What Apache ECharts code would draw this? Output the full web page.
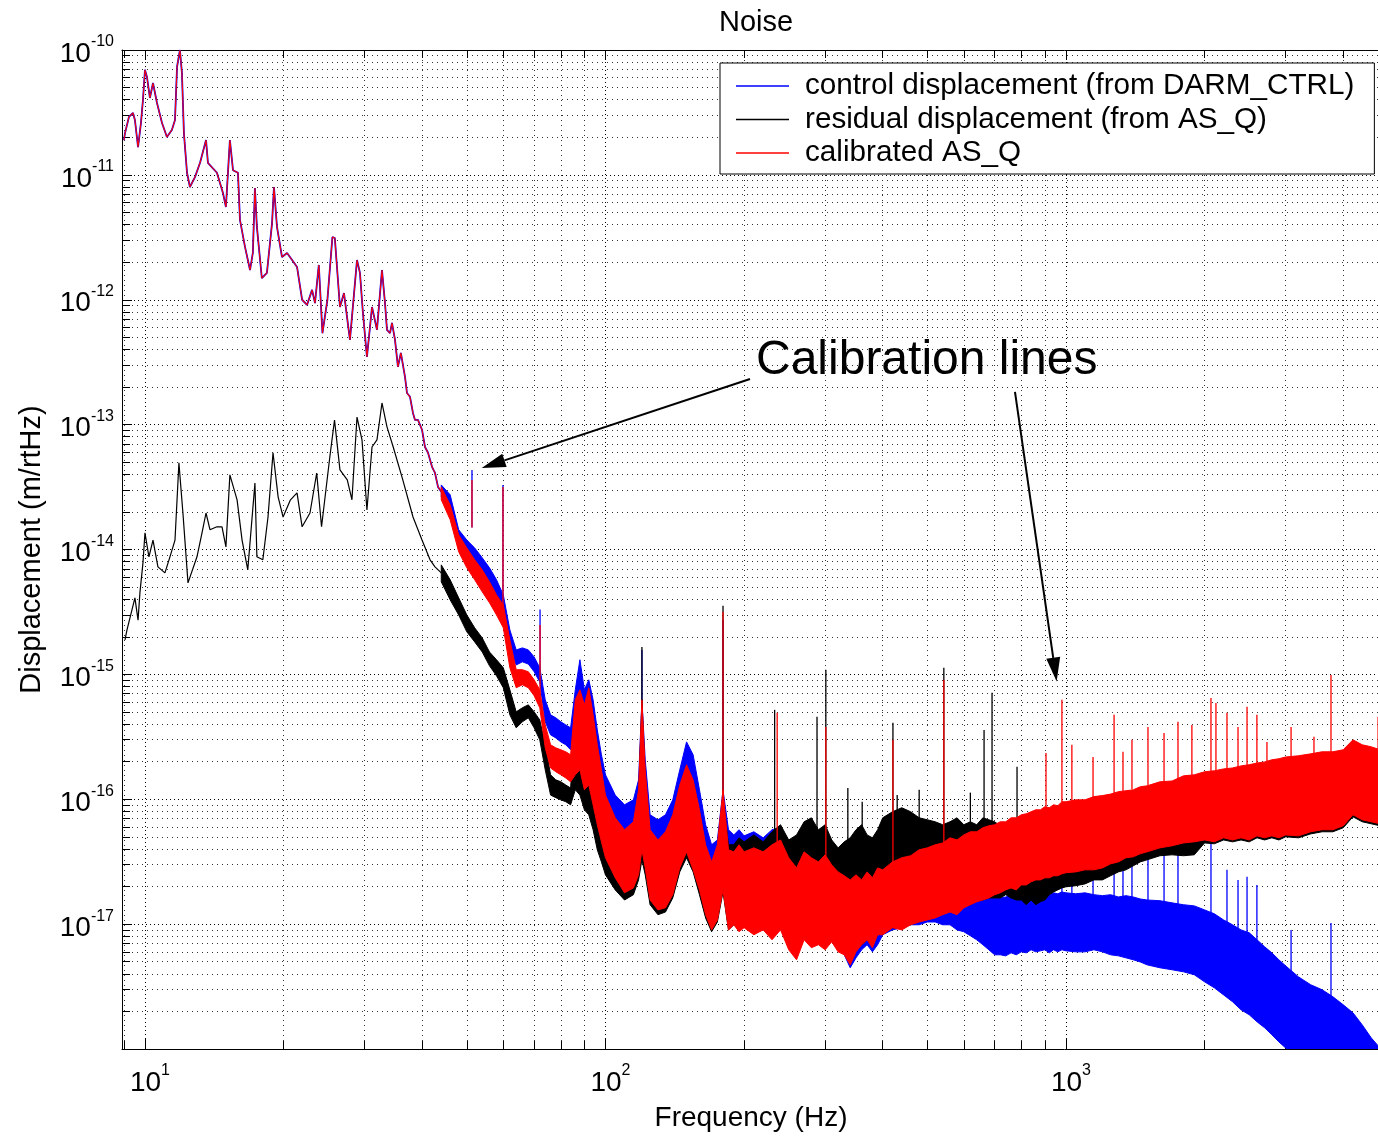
<!DOCTYPE html>
<html>
<head>
<meta charset="utf-8">
<title>Noise</title>
<script src="https://cdn.jsdelivr.net/npm/echarts@6.0.0/dist/echarts.min.js"></script>
<style>
  html, body { margin: 0; padding: 0; background: #fff; }
  #chart { width: 1378px; height: 1136px; }
</style>
</head>
<body>
<div id="chart"></div>
<script>
// values: frequency in Hz, displacement in m/rtHz

// low frequency part, control (blue) and calibrated AS_Q (red) lie on top of each other
const topTraceFreq = [
  9.00, 9.05, 9.23, 9.42, 9.51, 9.66, 9.80, 9.90, 10.0, 10.1,
  10.25, 10.41, 10.62, 10.89, 11.16, 11.44, 11.62, 11.74, 11.91, 12.03,
  12.15, 12.34, 12.52, 12.84, 13.17, 13.57, 13.70, 14.33, 14.77, 14.99,
  15.29, 15.53, 15.92, 16.08, 16.49, 16.91, 17.15, 17.33, 17.50, 17.94,
  18.40, 18.88, 19.06, 19.35, 19.84, 20.35, 20.87, 21.39, 21.94, 22.49,
  23.06, 23.40, 23.85, 24.29, 24.90, 25.53, 25.84, 26.51, 27.05, 27.87,
  28.87, 29.30, 29.74, 30.34, 31.12, 31.90, 32.71, 33.21, 33.54, 34.05,
  34.39, 34.91, 35.43, 35.95, 36.70, 37.07, 37.63, 38.19, 38.58, 39.16,
  39.96, 40.56, 41.18, 42.01, 42.64, 43.29, 44.0
];
const topTraceVal = [
  1.90e-11, 2.16e-11, 2.91e-11, 3.13e-11, 2.75e-11, 1.67e-11, 2.60e-11, 3.98e-11, 6.94e-11, 6.08e-11,
  4.13e-11, 5.44e-11, 3.76e-11, 2.60e-11, 2.01e-11, 2.29e-11, 2.75e-11, 7.34e-11, 1.0e-10, 6.54e-11,
  2.16e-11, 1.04e-11, 8.0e-12, 9.6e-12, 1.25e-11, 1.90e-11, 1.25e-11, 1.04e-11, 7.16e-12, 5.53e-12,
  1.90e-11, 1.09e-11, 1.04e-11, 4.36e-12, 2.65e-12, 1.73e-12, 2.37e-12, 7.85e-12, 3.83e-12, 1.49e-12,
  1.64e-12, 4.12e-12, 8.0e-12, 3.83e-12, 2.20e-12, 2.37e-12, 2.08e-12, 1.83e-12, 1.0e-12, 9.1e-13,
  1.20e-12, 9.4e-13, 1.90e-12, 5.4e-13, 1.0e-12, 3.18e-12, 3.12e-12, 8.75e-13, 1.13e-12, 4.77e-13,
  2.08e-12, 1.64e-12, 7.84e-13, 3.48e-13, 8.75e-13, 5.74e-13, 1.73e-12, 9.4e-13, 5.74e-13, 5.4e-13,
  6.52e-13, 4.77e-13, 2.90e-13, 3.75e-13, 2.41e-13, 1.79e-13, 1.67e-13, 1.24e-13, 1.09e-13, 1.09e-13,
  9.1e-14, 6.62e-14, 5.95e-14, 4.59e-14, 4.1e-14, 3.17e-14, 2.9e-14
];

// low frequency part of the residual displacement (black)
const blackTraceFreq = [
  9.05, 9.14, 9.37, 9.51, 9.66, 9.75, 9.90, 10.0, 10.2, 10.41,
  10.67, 11.05, 11.33, 11.62, 11.85, 12.09, 12.4, 12.97, 13.3, 13.57,
  13.84, 14.33, 14.7, 14.99, 15.29, 15.85, 16.25, 16.72, 17.33, 17.5,
  18.03, 18.5, 18.97, 19.46, 19.95, 20.7, 21.39, 21.94, 22.82, 23.6,
  24.18, 25.2, 25.8, 26.51, 27.5, 28.15, 28.87, 29.6, 30.34, 31.12,
  31.9, 32.71, 33.54, 34.6, 36.3, 38.2, 39.96, 41.6, 42.64, 44
];
const blackTraceVal = [
  1.89e-15, 2.27e-15, 3.28e-15, 4.10e-15, 2.72e-15, 4.49e-15, 7.82e-15, 1.36e-14, 8.74e-15, 1.19e-14,
  7.26e-15, 6.5e-15, 8.74e-15, 1.19e-14, 4.94e-14, 1.96e-14, 5.4e-15, 8.74e-15, 1.36e-14, 1.96e-14,
  1.44e-14, 1.52e-14, 1.52e-14, 1.05e-14, 3.96e-14, 2.50e-14, 1.19e-14, 6.87e-15, 3.41e-14, 8.74e-15,
  8.27e-15, 1.82e-14, 5.95e-14, 2.64e-14, 1.82e-14, 2.50e-14, 2.84e-14, 1.52e-14, 1.96e-14, 4.1e-14,
  1.52e-14, 5.5e-14, 1.09e-13, 4.34e-14, 3.61e-14, 2.50e-14, 1.15e-13, 7.55e-14, 2.07e-14, 6.62e-14,
  7.55e-14, 1.49e-13, 9.6e-14, 6.62e-14, 3.61e-14, 1.82e-14, 1.19e-14, 8.27e-15, 7.26e-15, 6.5e-15
];

// above 44 Hz the spectra are dense noise: upper and lower edge of each band
const bandFreq = [
  44, 46, 48, 50, 52, 54, 56, 58, 60, 62,
  64, 66, 68, 70, 72, 74, 76, 78, 80, 82,
  84, 86, 88, 90, 92, 94, 96, 98, 100, 105,
  110, 115, 118, 120, 122, 125, 130, 135, 140, 145,
  150, 155, 160, 165, 170, 175, 180, 185, 190, 195,
  200, 210, 220, 230, 240, 250, 260, 270, 280, 290,
  300, 310, 320, 330, 340, 350, 360, 370, 380, 390,
  400, 420, 440, 460, 480, 500, 520, 540, 560, 580,
  600, 620, 640, 660, 680, 700, 720, 740, 760, 780,
  800, 820, 840, 860, 880, 900, 920, 940, 960, 980,
  1000, 1050, 1100, 1150, 1200, 1250, 1300, 1350, 1400, 1450,
  1500, 1600, 1700, 1800, 1900, 2000, 2100, 2200, 2300, 2400,
  2500, 2600, 2700, 2800, 2900, 3000, 3200, 3400, 3600, 3800,
  4000, 4200, 4400, 4600, 4808
];

const blueHigh = [
  3.29e-14, 2.74e-14, 1.44e-14, 1.19e-14, 1.03e-14, 8.58e-15, 7.13e-15, 5.72e-15, 4.33e-15, 2.27e-15,
  1.57e-15, 1.63e-15, 1.57e-15, 1.38e-15, 1.13e-15, 6.26e-16, 4.74e-16, 4.49e-16, 4.17e-16, 3.94e-16,
  3.73e-16, 7.52e-16, 1.31e-15, 7.52e-16, 9.05e-16, 6.26e-16, 3.59e-16, 2.27e-16, 1.57e-16, 1.08e-16,
  9.03e-17, 9.89e-17, 1.43e-16, 6.26e-16, 2.07e-16, 7.51e-17, 6.85e-17, 7.51e-17, 9.89e-17, 1.72e-16,
  2.88e-16, 2.27e-16, 1.19e-16, 6.25e-17, 4.32e-17, 4.72e-17, 1.19e-16, 5.70e-17, 5.18e-17, 5.70e-17,
  5.09e-17, 5.49e-17, 4.91e-17, 5.70e-17, 5.91e-17, 3.94e-17, 3.40e-17, 4.32e-17, 3.94e-17, 3.79e-17,
  4.08e-17, 3.59e-17, 3.15e-17, 2.82e-17, 2.48e-17, 2.62e-17, 2.48e-17, 2.62e-17, 2.26e-17, 2.35e-17,
  2.48e-17, 2.35e-17, 2.26e-17, 2.26e-17, 2.18e-17, 2.06e-17, 2.06e-17, 1.99e-17, 1.95e-17, 1.88e-17,
  1.88e-17, 1.81e-17, 1.78e-17, 1.72e-17, 1.69e-17, 1.65e-17, 1.62e-17, 1.65e-17, 1.69e-17, 1.65e-17,
  1.72e-17, 1.69e-17, 1.72e-17, 1.75e-17, 1.72e-17, 1.78e-17, 1.72e-17, 1.78e-17, 1.75e-17, 1.81e-17,
  1.78e-17, 1.75e-17, 1.78e-17, 1.72e-17, 1.69e-17, 1.72e-17, 1.65e-17, 1.69e-17, 1.65e-17, 1.59e-17,
  1.56e-17, 1.54e-17, 1.48e-17, 1.43e-17, 1.40e-17, 1.30e-17, 1.21e-17, 1.08e-17, 9.88e-18, 8.99e-18,
  8.53e-18, 7.49e-18, 6.59e-18, 5.89e-18, 5.18e-18, 4.63e-18, 3.78e-18, 3.27e-18, 2.98e-18, 2.62e-18,
  2.26e-18, 1.95e-18, 1.56e-18, 1.23e-18, 1.02e-18
];
const blueLow = [
  2.64e-14, 2.00e-14, 1.09e-14, 8.58e-15, 7.53e-15, 6.27e-15, 5.21e-15, 4.10e-15, 3.17e-15, 1.57e-15,
  1.19e-15, 1.26e-15, 1.21e-15, 1.05e-15, 8.69e-16, 4.17e-16, 3.28e-16, 3.10e-16, 2.88e-16, 2.73e-16,
  2.49e-16, 2.73e-16, 2.99e-16, 1.89e-16, 2.07e-16, 1.30e-16, 9.03e-17, 6.25e-17, 4.72e-17, 3.94e-17,
  2.98e-17, 3.40e-17, 3.94e-17, 5.70e-17, 4.32e-17, 2.72e-17, 2.48e-17, 2.72e-17, 3.27e-17, 4.56e-17,
  6.25e-17, 4.72e-17, 3.27e-17, 2.26e-17, 1.72e-17, 2.26e-17, 2.72e-17, 1.88e-17, 1.72e-17, 1.62e-17,
  1.56e-17, 1.43e-17, 1.43e-17, 1.30e-17, 1.43e-17, 8.22e-18, 6.84e-18, 8.99e-18, 7.76e-18, 8.22e-18,
  7.49e-18, 8.22e-18, 6.47e-18, 5.68e-18, 4.47e-18, 5.37e-18, 6.23e-18, 6.84e-18, 6.00e-18, 6.84e-18,
  8.22e-18, 8.99e-18, 9.36e-18, 9.88e-18, 9.88e-18, 1.04e-17, 1.04e-17, 9.88e-18, 9.88e-18, 8.99e-18,
  8.69e-18, 8.07e-18, 7.49e-18, 6.84e-18, 6.23e-18, 5.68e-18, 5.68e-18, 5.57e-18, 5.89e-18, 5.68e-18,
  6.00e-18, 5.89e-18, 6.23e-18, 6.00e-18, 6.11e-18, 6.23e-18, 5.89e-18, 6.23e-18, 6.00e-18, 6.23e-18,
  6.11e-18, 6.00e-18, 6.00e-18, 6.23e-18, 6.00e-18, 5.68e-18, 5.57e-18, 5.37e-18, 5.18e-18, 4.98e-18,
  4.72e-18, 4.47e-18, 4.31e-18, 4.15e-18, 3.93e-18, 3.45e-18, 3.09e-18, 2.71e-18, 2.39e-18, 2.06e-18,
  1.88e-18, 1.65e-18, 1.48e-18, 1.30e-18, 1.14e-18, 1.02e-18, 8.2e-19, 6.8e-19, 5.9e-19, 4.9e-19,
  4.7e-19, 4.3e-19, 3.9e-19, 3.6e-19, 3.3e-19
];

const blackHigh = [
  7.53e-15, 5.72e-15, 4.10e-15, 2.99e-15, 2.36e-15, 1.96e-15, 1.51e-15, 1.31e-15, 1.13e-15, 7.52e-16,
  5.01e-16, 5.40e-16, 5.70e-16, 5.01e-16, 4.32e-16, 2.73e-16, 1.57e-16, 1.43e-16, 1.38e-16, 1.30e-16,
  1.23e-16, 4.32e-16, 5.20e-16, 3.59e-16, 5.70e-16, 3.28e-16, 1.89e-16, 1.19e-16, 8.23e-17, 5.70e-17,
  4.72e-17, 5.49e-17, 9.89e-17, 6.26e-16, 1.43e-16, 4.72e-17, 4.08e-17, 4.72e-17, 6.25e-17, 1.08e-16,
  1.72e-16, 1.30e-16, 7.51e-17, 3.94e-17, 2.98e-17, 3.94e-17, 9.89e-17, 4.32e-17, 4.32e-17, 4.91e-17,
  4.56e-17, 5.18e-17, 4.56e-17, 5.49e-17, 6.25e-17, 4.72e-17, 5.18e-17, 6.60e-17, 7.10e-17, 5.70e-17,
  6.25e-17, 4.72e-17, 4.08e-17, 4.56e-17, 4.91e-17, 5.70e-17, 6.25e-17, 5.18e-17, 4.91e-17, 5.70e-17,
  7.10e-17, 7.94e-17, 8.55e-17, 7.94e-17, 7.10e-17, 6.85e-17, 6.60e-17, 6.25e-17, 6.60e-17, 7.10e-17,
  6.25e-17, 6.60e-17, 6.25e-17, 7.10e-17, 6.85e-17, 6.60e-17, 6.13e-17, 5.70e-17, 5.91e-17, 6.13e-17,
  6.36e-17, 6.60e-17, 6.85e-17, 6.60e-17, 7.10e-17, 7.37e-17, 7.37e-17, 7.51e-17, 7.65e-17, 7.94e-17,
  7.94e-17, 8.23e-17, 8.55e-17, 8.87e-17, 9.03e-17, 9.55e-17, 9.72e-17, 9.89e-17, 1.03e-16, 1.05e-16,
  1.08e-16, 1.15e-16, 1.19e-16, 1.26e-16, 1.30e-16, 1.38e-16, 1.43e-16, 1.48e-16, 1.51e-16, 1.57e-16,
  1.60e-16, 1.66e-16, 1.69e-16, 1.72e-16, 1.78e-16, 1.82e-16, 1.89e-16, 1.95e-16, 1.99e-16, 2.03e-16,
  2.14e-16, 2.49e-16, 2.35e-16, 2.27e-16, 2.18e-16
];
const blackLow = [
  5.51e-15, 3.95e-15, 2.99e-15, 2.19e-15, 1.82e-15, 1.51e-15, 1.17e-15, 9.73e-16, 7.81e-16, 4.74e-16,
  3.73e-16, 4.17e-16, 4.49e-16, 3.73e-16, 2.99e-16, 1.72e-16, 1.08e-16, 1.03e-16, 9.89e-17, 9.55e-17,
  9.03e-17, 1.19e-16, 1.08e-16, 8.23e-17, 7.51e-17, 5.70e-17, 3.94e-17, 3.15e-17, 2.48e-17, 1.88e-17,
  1.56e-17, 1.72e-17, 2.26e-17, 3.27e-17, 2.48e-17, 1.43e-17, 1.19e-17, 1.25e-17, 1.62e-17, 2.62e-17,
  3.40e-17, 2.62e-17, 1.72e-17, 1.12e-17, 8.69e-18, 1.04e-17, 1.81e-17, 8.99e-18, 9.88e-18, 8.99e-18,
  9.70e-18, 8.99e-18, 9.36e-18, 8.22e-18, 9.36e-18, 6.84e-18, 5.68e-18, 8.22e-18, 7.49e-18, 7.49e-18,
  6.84e-18, 7.49e-18, 6.23e-18, 6.00e-18, 5.18e-18, 6.23e-18, 6.84e-18, 7.49e-18, 6.84e-18, 8.22e-18,
  8.69e-18, 9.36e-18, 9.36e-18, 9.88e-18, 1.08e-17, 1.12e-17, 1.19e-17, 1.25e-17, 1.30e-17, 1.25e-17,
  1.43e-17, 1.43e-17, 1.56e-17, 1.56e-17, 1.62e-17, 1.62e-17, 1.62e-17, 1.72e-17, 1.62e-17, 1.56e-17,
  1.56e-17, 1.43e-17, 1.56e-17, 1.43e-17, 1.51e-17, 1.56e-17, 1.72e-17, 1.81e-17, 1.88e-17, 1.95e-17,
  1.99e-17, 2.03e-17, 2.10e-17, 2.26e-17, 2.26e-17, 2.44e-17, 2.62e-17, 2.72e-17, 2.93e-17, 3.15e-17,
  3.27e-17, 3.53e-17, 3.59e-17, 3.53e-17, 3.59e-17, 4.47e-17, 4.40e-17, 4.72e-17, 4.56e-17, 4.72e-17,
  4.56e-17, 4.91e-17, 4.72e-17, 4.91e-17, 4.72e-17, 5.00e-17, 4.91e-17, 5.28e-17, 5.49e-17, 5.49e-17,
  5.91e-17, 7.23e-17, 6.60e-17, 6.36e-17, 6.13e-17
];

const redHigh = [
  3.17e-14, 2.28e-14, 1.31e-14, 1.03e-14, 8.27e-15, 6.87e-15, 5.51e-15, 4.33e-15, 3.60e-15, 1.89e-15,
  1.09e-15, 1.09e-15, 1.05e-15, 9.05e-16, 7.52e-16, 3.94e-16, 2.73e-16, 2.58e-16, 2.49e-16, 2.40e-16,
  2.27e-16, 6.26e-16, 7.52e-16, 5.70e-16, 7.81e-16, 4.74e-16, 2.73e-16, 1.72e-16, 1.08e-16, 7.10e-17,
  5.70e-17, 6.60e-17, 1.19e-16, 6.26e-16, 1.72e-16, 5.70e-17, 4.72e-17, 5.49e-17, 7.51e-17, 1.30e-16,
  1.89e-16, 1.43e-16, 8.23e-17, 4.32e-17, 3.15e-17, 4.32e-17, 1.19e-16, 3.94e-17, 3.79e-17, 4.32e-17,
  3.79e-17, 4.08e-17, 3.79e-17, 4.32e-17, 4.72e-17, 3.40e-17, 2.82e-17, 3.79e-17, 3.40e-17, 3.15e-17,
  3.59e-17, 2.98e-17, 2.62e-17, 2.44e-17, 2.26e-17, 2.48e-17, 2.26e-17, 2.62e-17, 2.35e-17, 2.82e-17,
  2.72e-17, 3.15e-17, 3.40e-17, 3.53e-17, 3.94e-17, 4.08e-17, 4.32e-17, 4.47e-17, 4.91e-17, 4.72e-17,
  5.18e-17, 5.49e-17, 5.49e-17, 5.91e-17, 6.13e-17, 6.25e-17, 6.60e-17, 6.60e-17, 7.10e-17, 7.10e-17,
  7.51e-17, 7.65e-17, 7.94e-17, 8.23e-17, 8.23e-17, 8.71e-17, 8.55e-17, 9.03e-17, 8.87e-17, 9.55e-17,
  9.55e-17, 9.89e-17, 9.89e-17, 1.05e-16, 1.07e-16, 1.10e-16, 1.15e-16, 1.17e-16, 1.19e-16, 1.26e-16,
  1.28e-16, 1.38e-16, 1.40e-16, 1.54e-16, 1.57e-16, 1.66e-16, 1.69e-16, 1.75e-16, 1.78e-16, 1.85e-16,
  1.89e-16, 1.95e-16, 1.99e-16, 2.07e-16, 2.11e-16, 2.18e-16, 2.23e-16, 2.31e-16, 2.40e-16, 2.40e-16,
  2.49e-16, 2.99e-16, 2.73e-16, 2.63e-16, 2.49e-16
];
const redLow = [
  2.50e-14, 1.73e-14, 9.59e-15, 7.13e-15, 5.72e-15, 4.58e-15, 3.74e-15, 2.99e-15, 2.36e-15, 1.13e-15,
  7.81e-16, 8.25e-16, 7.81e-16, 6.74e-16, 5.40e-16, 2.58e-16, 1.78e-16, 1.66e-16, 1.57e-16, 1.48e-16,
  1.38e-16, 1.57e-16, 1.72e-16, 1.19e-16, 1.30e-16, 9.03e-17, 6.25e-17, 4.56e-17, 3.40e-17, 2.35e-17,
  1.78e-17, 1.95e-17, 2.48e-17, 3.94e-17, 2.82e-17, 1.56e-17, 1.30e-17, 1.35e-17, 1.72e-17, 2.82e-17,
  3.79e-17, 2.72e-17, 1.88e-17, 1.19e-17, 8.99e-18, 1.08e-17, 1.88e-17, 8.99e-18, 9.88e-18, 8.69e-18,
  9.36e-18, 8.22e-18, 8.99e-18, 7.49e-18, 8.99e-18, 6.23e-18, 5.18e-18, 7.49e-18, 6.47e-18, 6.84e-18,
  6.23e-18, 7.21e-18, 6.00e-18, 5.68e-18, 4.72e-18, 6.00e-18, 6.84e-18, 7.49e-18, 6.47e-18, 8.22e-18,
  8.22e-18, 9.36e-18, 8.99e-18, 9.88e-18, 1.04e-17, 1.08e-17, 1.12e-17, 1.19e-17, 1.25e-17, 1.19e-17,
  1.35e-17, 1.43e-17, 1.51e-17, 1.56e-17, 1.62e-17, 1.72e-17, 1.78e-17, 1.88e-17, 1.95e-17, 1.88e-17,
  2.06e-17, 2.06e-17, 2.18e-17, 2.26e-17, 2.26e-17, 2.35e-17, 2.35e-17, 2.44e-17, 2.44e-17, 2.53e-17,
  2.58e-17, 2.62e-17, 2.72e-17, 2.72e-17, 2.82e-17, 3.04e-17, 3.15e-17, 3.40e-17, 3.46e-17, 3.66e-17,
  3.79e-17, 4.08e-17, 4.24e-17, 4.47e-17, 4.56e-17, 4.72e-17, 4.56e-17, 4.91e-17, 4.72e-17, 4.91e-17,
  4.72e-17, 5.09e-17, 4.91e-17, 5.09e-17, 4.91e-17, 5.18e-17, 5.09e-17, 5.49e-17, 5.70e-17, 5.70e-17,
  6.13e-17, 7.51e-17, 6.85e-17, 6.60e-17, 6.36e-17
];

// narrow lines sticking out of the bands: [frequency, peak, foot]
const blueSpikes = [
  [51.3, 4.34e-14, 1.5e-14], [59.9, 3.29e-14, 3.5e-15], [72.1, 3.31e-15, 9.0e-16],
  [120, 1.57e-15, 2.0e-16], [180, 2.72e-15, 1.0e-16],
  [905, 2.5e-17, 1.0e-17], [980, 2.8e-17, 1.0e-17], [1030, 2.6e-17, 1.0e-17], [1145, 2.8e-17, 1.0e-17],
  [1272, 3.2e-17, 1.0e-17], [1330, 3.0e-17, 1.0e-17], [1391, 3.3e-17, 1.0e-17], [1507, 3.6e-17, 1.0e-17],
  [1633, 3.8e-17, 1.0e-17], [1751, 4.16e-17, 1.0e-17], [2065, 4.72e-17, 9.0e-18], [2237, 2.72e-17, 8.0e-18],
  [2364, 2.26e-17, 7.0e-18], [2473, 2.39e-17, 6.0e-18], [2598, 2.06e-17, 5.0e-18], [3082, 8.99e-18, 3.0e-18],
  [3763, 1.02e-17, 1.5e-18]
];
const blackSpikes = [
  [120, 1.66e-15, 1.0e-16], [180, 3.54e-15, 1.0e-16], [233, 5.20e-16, 5.5e-17], [288, 4.57e-16, 5.5e-17],
  [301, 1.09e-15, 6.0e-17], [336, 1.23e-16, 4.5e-17], [361, 9.55e-17, 5.0e-17], [421, 4.09e-16, 7.0e-17],
  [430, 1.08e-16, 7.0e-17], [480, 1.19e-16, 6.5e-17], [543, 1.13e-15, 6.0e-17], [620, 1.13e-16, 6.0e-17],
  [664, 3.59e-16, 6.5e-17], [691, 7.12e-16, 6.5e-17], [783, 1.82e-16, 6.0e-17]
];
const redSpikes = [
  [51.3, 3.61e-14, 1.5e-14], [59.9, 3.17e-14, 3.0e-15], [72.1, 2.49e-15, 7.0e-16], [180, 3.17e-15, 1.0e-16],
  [236, 4.93e-16, 4.0e-17], [301, 3.79e-16, 3.5e-17], [421, 2.99e-16, 3.0e-17], [543, 9.05e-16, 4.5e-17],
  [905, 2.35e-16, 8.5e-17], [980, 6.26e-16, 9.5e-17], [1030, 2.73e-16, 9.7e-17], [1145, 2.18e-16, 1.0e-16],
  [1272, 4.74e-16, 1.1e-16], [1330, 2.40e-16, 1.15e-16], [1391, 2.99e-16, 1.2e-16], [1507, 3.79e-16, 1.3e-16],
  [1633, 3.40e-16, 1.4e-16], [1751, 4.17e-16, 1.45e-16], [1877, 3.94e-16, 1.55e-16], [2065, 6.48e-16, 1.65e-16],
  [2117, 5.91e-16, 1.7e-16], [2237, 4.93e-16, 1.75e-16], [2364, 3.79e-16, 1.8e-16], [2473, 5.50e-16, 1.85e-16],
  [2598, 4.74e-16, 1.9e-16], [2732, 2.88e-16, 2.0e-16], [3082, 3.79e-16, 2.15e-16], [3456, 3.16e-16, 2.3e-16],
  [3763, 9.90e-16, 2.4e-16], [4762, 4.57e-16, 2.5e-16]
];

// annotation arrows: [tail frequency, tail displacement, tip frequency, tip displacement]
const calibrationArrows = [
  [206, 2.32e-13, 53.85, 4.50e-14],
  [775, 1.83e-13, 954.5, 8.76e-16]
];

const xTickExponents = [1, 2, 3];
const yTickExponents = [-17, -16, -15, -14, -13, -12, -11, -10];

const seriesNames = [
  'control displacement (from DARM_CTRL)',
  'residual displacement (from AS_Q)',
  'calibrated AS_Q'
];
const BLUE = '#0000ff';
const BLACK = '#000000';
const RED = '#ff0000';
const FONT = '"Liberation Sans", Arial, sans-serif';

// the log axis rounds very small numbers to 0, so plot in units of 1e-18 m/rtHz
const SCALE = 1e18;
const X_MIN = 8.915;
const X_MAX = 4808;

function traceSeries(name, color, freq, vals, width, z) {
  return {
    type: 'line',
    name: name,
    z: z,
    color: color,
    data: freq.map((f, i) => [f, vals[i] * SCALE]),
    symbol: 'none',
    showSymbol: false,
    silent: true,
    lineStyle: { color: color, width: width }
  };
}

function bandSeries(name, color, high, low, z) {
  const data = bandFreq.map((f, i) => [f, high[i] * SCALE, low[i] * SCALE]);
  return {
    type: 'custom',
    name: name,
    z: z,
    clip: true,
    silent: true,
    data: data,
    encode: { x: 0, y: [1, 2] },
    renderItem: function (params, api) {
      if (params.dataIndex !== 0) return null;
      const upper = data.map(d => api.coord([d[0], d[1]]));
      const lower = data.map(d => api.coord([d[0], d[2]])).reverse();
      return {
        type: 'polygon',
        shape: { points: upper.concat(lower) },
        style: { fill: color, stroke: color, lineWidth: 1 }
      };
    }
  };
}

function spikeSeries(name, color, spikes, z) {
  return {
    type: 'custom',
    name: name,
    z: z,
    clip: true,
    silent: true,
    data: spikes.map(s => [s[0], s[1] * SCALE, s[2] * SCALE]),
    encode: { x: 0, y: [1, 2] },
    renderItem: function (params, api) {
      const top = api.coord([api.value(0), api.value(1)]);
      const foot = api.coord([api.value(0), api.value(2)]);
      return {
        type: 'line',
        shape: { x1: top[0], y1: top[1], x2: foot[0], y2: foot[1] },
        style: { stroke: color, lineWidth: 1.3 }
      };
    }
  };
}

// arrow from the annotation text down to the calibration line
function arrowSeries() {
  return {
    type: 'custom',
    z: 10,
    silent: true,
    data: calibrationArrows.map(a => [a[0], a[1] * SCALE, a[2], a[3] * SCALE]),
    encode: { x: [0, 2], y: [1, 3] },
    renderItem: function (params, api) {
      const tail = api.coord([api.value(0), api.value(1)]);
      const tip = api.coord([api.value(2), api.value(3)]);
      const dx = tip[0] - tail[0];
      const dy = tip[1] - tail[1];
      const len = Math.sqrt(dx * dx + dy * dy);
      const ux = dx / len, uy = dy / len;
      const headLen = 24, headHalf = 7;
      const bx = tip[0] - ux * headLen, by = tip[1] - uy * headLen;
      return {
        type: 'group',
        children: [
          {
            type: 'line',
            shape: { x1: tail[0], y1: tail[1], x2: bx, y2: by },
            style: { stroke: '#000', lineWidth: 2 }
          },
          {
            type: 'polygon',
            shape: { points: [tip, [bx - uy * headHalf, by + ux * headHalf], [bx + uy * headHalf, by - ux * headHalf]] },
            style: { fill: '#000' }
          }
        ]
      };
    }
  };
}

function isPow10(v, list) {
  const e = Math.log10(v);
  const r = Math.round(e);
  return Math.abs(e - r) < 1e-6 && list.indexOf(r) >= 0;
}

const labelRich = {
  b: { fontSize: 28, fontFamily: FONT, color: '#000', lineHeight: 40 },
  s: { fontSize: 16, fontFamily: FONT, color: '#000', lineHeight: 14, verticalAlign: 'top' }
};

const chart = echarts.init(document.getElementById('chart'));

const option = {
  animation: false,
  backgroundColor: '#fff',
  title: {
    text: 'Noise',
    left: 714,
    top: 3,
    textStyle: { fontSize: 29, fontWeight: 'normal', fontFamily: FONT, color: '#000' }
  },
  legend: {
    data: seriesNames,
    orient: 'vertical',
    left: 720,
    top: 63,
    icon: 'rect',
    itemWidth: 53,
    itemHeight: 1.5,
    itemGap: 3.5,
    padding: [8, 20, 6, 16],
    backgroundColor: '#fff',
    borderColor: '#000',
    borderWidth: 1,
    selectedMode: false,
    textStyle: { fontSize: 29.7, fontFamily: FONT, color: '#000', padding: [0, 0, 0, 11] }
  },
  grid: { left: 122, top: 50, right: -2, bottom: 87, containLabel: false, outerBoundsMode: 'none' },
  xAxis: [
    {
      type: 'log',
      logBase: 10,
      min: X_MIN,
      max: X_MAX,
      position: 'bottom',
      name: 'Frequency (Hz)',
      nameLocation: 'middle',
      nameGap: 55,
      nameTextStyle: { fontSize: 28, fontFamily: FONT, color: '#000' },
      axisLine: { lineStyle: { color: '#000', width: 1 } },
      axisTick: { inside: true, length: 10, lineStyle: { color: '#000' } },
      minorTick: { show: true, splitNumber: 9, length: 8, lineStyle: { color: '#000' } },
      splitLine: { show: true, lineStyle: { color: '#000', width: 1, type: [1, 3] } },
      minorSplitLine: { show: true, lineStyle: { color: '#333', width: 1, type: [1, 4] } },
      axisLabel: {
        margin: 14,
        padding: [0, 0, 0, 10],
        formatter: v => isPow10(v, xTickExponents) ? '{b|10}{s|' + Math.round(Math.log10(v)) + '}' : '',
        rich: labelRich
      }
    },
    {
      type: 'log',
      logBase: 10,
      min: X_MIN,
      max: X_MAX,
      position: 'top',
      axisLine: { lineStyle: { color: '#000', width: 1 } },
      axisTick: { inside: true, length: 10, lineStyle: { color: '#000' } },
      minorTick: { show: true, splitNumber: 9, length: 8, lineStyle: { color: '#000' } },
      splitLine: { show: false },
      axisLabel: { show: false }
    }
  ],
  yAxis: {
    type: 'log',
    logBase: 10,
    min: 1,
    max: 1e8,
    name: 'Displacement (m/rtHz)',
    nameLocation: 'middle',
    nameGap: 76,
    nameRotate: 90,
    nameTextStyle: { fontSize: 29, fontFamily: FONT, color: '#000' },
    axisLine: { lineStyle: { color: '#000', width: 1 } },
    axisTick: { inside: true, length: 10, lineStyle: { color: '#000' } },
    minorTick: { show: true, splitNumber: 9, length: 8, lineStyle: { color: '#000' } },
    splitLine: { show: true, lineStyle: { color: '#000', width: 1, type: [1, 3] } },
    minorSplitLine: { show: true, lineStyle: { color: '#333', width: 1, type: [1, 4] } },
    axisLabel: {
      margin: 8,
      padding: [8, 0, 0, 0],
      formatter: v => {
        const e = Math.round(Math.log10(v)) - 18;
        return isPow10(v * 1e-18, yTickExponents) ? '{b|10}{s|' + e + '}' : '';
      },
      rich: labelRich
    }
  },
  graphic: [
    {
      type: 'text',
      left: 756,
      top: 337,
      z: 100,
      style: { text: 'Calibration lines', font: '48px ' + FONT, fill: '#000' }
    }
  ],
  series: [
    traceSeries(seriesNames[0], BLUE, topTraceFreq, topTraceVal, 1.8, 2),
    traceSeries(seriesNames[1], BLACK, blackTraceFreq, blackTraceVal, 1.2, 3),
    traceSeries(seriesNames[2], RED, topTraceFreq, topTraceVal, 1.1, 4),
    bandSeries(seriesNames[0], BLUE, blueHigh, blueLow, 2),
    bandSeries(seriesNames[1], BLACK, blackHigh, blackLow, 3),
    bandSeries(seriesNames[2], RED, redHigh, redLow, 4),
    spikeSeries(seriesNames[0], BLUE, blueSpikes, 2),
    spikeSeries(seriesNames[1], BLACK, blackSpikes, 3),
    spikeSeries(seriesNames[2], RED, redSpikes, 4),
    arrowSeries()
  ]
};

chart.setOption(option);
</script>
</body>
</html>
